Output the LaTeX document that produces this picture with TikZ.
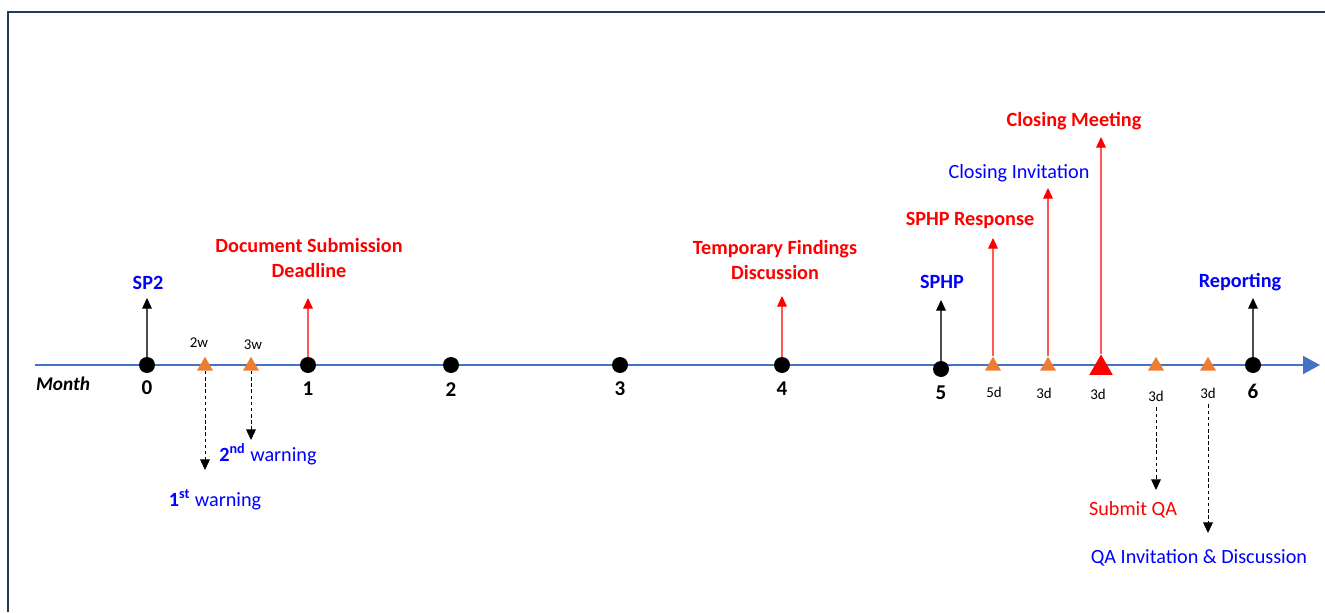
\documentclass[tikz,border=0pt]{standalone}
\usepackage{fontspec}
\setmainfont{Carlito}
\usetikzlibrary{arrows.meta,shapes.geometric}
\definecolor{axisblue}{HTML}{4472C4}
\definecolor{triorange}{HTML}{ED7D31}
\definecolor{framenavy}{HTML}{223A5E}
\tikzset{
  mdot/.style={circle, fill=black, minimum size=0.32cm, inner sep=0pt},
  mtri/.style={regular polygon, regular polygon sides=3, fill=triorange, minimum size=0.37cm, inner sep=0pt},
  bigtri/.style={regular polygon, regular polygon sides=3, fill=red, minimum size=0.54cm, inner sep=0pt},
  mnum/.style={font=\fontsize{12}{14}\selectfont\bfseries},
  gaplabel/.style={font=\fontsize{8.5}{10}\selectfont},
  evlabel/.style={font=\fontsize{11.5}{14.5}\selectfont, align=center, inner sep=1pt},
  upblack/.style={-{Triangle[length=6pt,width=5.5pt,color=black]}, gray!60!black, line width=0.6pt},
  upred/.style={-{Triangle[length=6pt,width=5.5pt,color=red]}, red!65, line width=0.6pt},
  downdash/.style={-{Triangle[length=6pt,width=5.5pt]}, black, dash pattern=on 2pt off 1.5pt, line width=0.5pt},
}

\begin{document}
\begin{tikzpicture}[x=0.02cm, y=-0.02cm]
  \useasboundingbox (0,0) rectangle (1325,612);
  \draw[framenavy, line width=1.1pt] (8,612) -- (8,12) -- (1325,12);

  \coordinate (axstart) at (35,365);
  \coordinate (axend) at (1320,365);
  \draw[axisblue, line width=0.9pt, -{Triangle[length=0.34cm,width=0.36cm]}] (axstart) -- (axend);

  \foreach \n/\x/\y/\ly in {0/147/365/388, 1/308/365/389, 2/451/365/390, 3/620/365/389, 4/782/365/389, 5/941/369/393, 6/1253/365/391} {
    \node[mdot] (d\n) at (\x,\y) {};
    \node[mnum] (n\n) at (\x,\ly) {\n};
  }
  \node[font=\fontsize{11}{13}\selectfont\bfseries\itshape] (month) at (63,384) {Month};

  \node[mtri] (t2w) at (205,366) {};
  \node[mtri] (t3w) at (251,366) {};
  \node[mtri] (t5d) at (993,366) {};
  \node[mtri] (t3da) at (1048,366) {};
  \node[bigtri] (tmeet) at (1101,368) {};
  \node[mtri] (t3db) at (1156,366) {};
  \node[mtri] (t3dc) at (1208,366) {};

  \node[gaplabel] (g2w) at (199,343) {2w};
  \node[gaplabel] (g3w) at (253,345) {3w};
  \node[gaplabel] (g5d) at (994,392) {5d};
  \node[gaplabel] (g3da) at (1044,393) {3d};
  \node[gaplabel] (g3db) at (1098,394) {3d};
  \node[gaplabel] (g3dc) at (1156,396) {3d};
  \node[gaplabel] (g3dd) at (1208,393) {3d};

  \node[evlabel, blue, font=\fontsize{11.5}{14.5}\selectfont\bfseries] (lsp2) at (148,283) {SP2};
  \node[evlabel, red, font=\fontsize{11.5}{14.5}\selectfont\bfseries] (ldoc) at (309,258) {Document Submission\\Deadline};
  \node[evlabel, red, font=\fontsize{11.5}{14.5}\selectfont\bfseries] (ltfd) at (775,260) {Temporary Findings\\Discussion};
  \node[evlabel, blue, font=\fontsize{11.5}{14.5}\selectfont\bfseries] (lsphp) at (942,282) {SPHP};
  \node[evlabel, red, font=\fontsize{11.5}{14.5}\selectfont\bfseries] (lresp) at (970,220) {SPHP Response};
  \node[evlabel, blue] (linv) at (1019,173) {Closing Invitation};
  \node[evlabel, red, font=\fontsize{11.5}{14.5}\selectfont\bfseries] (lmeet) at (1074,121) {Closing Meeting};
  \node[evlabel, blue, font=\fontsize{11.5}{14.5}\selectfont\bfseries] (lrep) at (1240,282) {Reporting};
  \node[evlabel, blue] (lw1) at (215,500) {\textbf{1\textsuperscript{st}} warning};
  \node[evlabel, blue] (lw2) at (268,454) {\textbf{2\textsuperscript{nd}} warning};
  \node[evlabel, red] (lsqa) at (1133,510) {Submit QA};
  \node[evlabel, blue] (lqai) at (1199,558) {QA Invitation \& Discussion};

  \coordinate (sp2tip) at (147,298);
  \coordinate (doctip) at (308,298);
  \coordinate (tfdtip) at (782,296);
  \coordinate (sphptip) at (941,300);
  \coordinate (resptip) at (993,238);
  \coordinate (invtip) at (1048,188);
  \coordinate (meettip) at (1101,137);
  \coordinate (reptip) at (1253,298);
  \coordinate (w1tip) at (205,470);
  \coordinate (w2tip) at (251,440);
  \coordinate (sqatip) at (1156,490);
  \coordinate (qaitip) at (1208,533);

  \draw[upblack] (d0) -- (sp2tip);
  \draw[upred] (d1) -- (doctip);
  \draw[upred] (d4) -- (tfdtip);
  \draw[upblack] (d5) -- (sphptip);
  \draw[upred] (t5d) -- (resptip);
  \draw[upred] (t3da) -- (invtip);
  \draw[upred] (tmeet) -- (meettip);
  \draw[upblack] (d6) -- (reptip);

  \draw[downdash] (t2w) -- (w1tip);
  \draw[downdash] (t3w) -- (w2tip);
  \draw[downdash] (g3dc) -- (sqatip);
  \draw[downdash] (g3dd) -- (qaitip);
\end{tikzpicture}
\end{document}
